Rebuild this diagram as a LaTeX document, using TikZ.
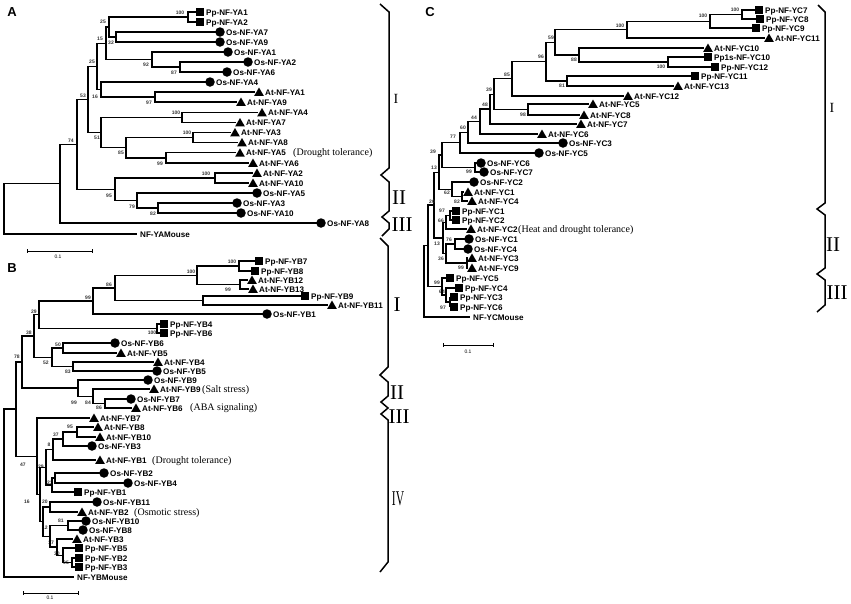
\documentclass[tikz,border=0pt]{standalone}
\usepackage{fontspec}
\setmainfont{Liberation Serif}
\setsansfont{Liberation Sans}
\usetikzlibrary{calc,shapes.geometric}
\newcommand\lblfont{\sffamily\bfseries\fontsize{8.1}{9}\selectfont}
\newcommand\Lf[5]{%
  \coordinate (#1) at ({#3-4},#4);
  \node[#2] (#1s) at (#3,#4) {};
  \node[lbl] (#1t) at ({#3+6},{#4+3}) {#5};}
\newcommand\Tn[4]{%
  \path let \p1=($(#3)!0.5!(#4)$) in coordinate (#1) at (#2pt,\y1);
  \draw[br] (#3) -| (#1) |- (#4);}
\newcommand\Bs[4]{\node[bs] (#1) at (#2,#3) {#4};}
\begin{document}
\begin{tikzpicture}[x=1pt,y=-1pt,
  br/.style={line width=1.3pt,black},
  lbl/.style={anchor=base west,inner sep=0pt,font=\lblfont},
  ann/.style={anchor=base west,inner sep=0pt,font=\rmfamily\fontsize{10}{11}\selectfont},
  bs/.style={inner sep=0pt,font=\sffamily\bfseries\fontsize{5}{5}\selectfont,text=black!80},
  sq/.style={rectangle,fill=black,minimum size=8pt,inner sep=0pt},
  ci/.style={circle,fill=black,minimum size=9.5pt,inner sep=0pt},
  tr/.style={regular polygon,regular polygon sides=3,fill=black,minimum size=11pt,inner sep=0pt,yshift=-1pt},
  brace/.style={line width=1.5pt,black,line join=miter},
  rom/.style={inner sep=0pt,font=\rmfamily\fontsize{21}{21}\selectfont},
  roms/.style={inner sep=0pt,font=\rmfamily\fontsize{14}{14}\selectfont},
  sec/.style={inner sep=0pt,font=\sffamily\bfseries\fontsize{13}{13}\selectfont},
  sbar/.style={line width=0.8pt},
  sbl/.style={inner sep=0pt,font=\sffamily\fontsize{5}{5}\selectfont}]
\useasboundingbox (0,0) rectangle (851,603);
% ================= A =================
\node[sec] (secA) at (12,12) {A};
\Lf{a1}{sq}{200}{12}{Pp-NF-YA1}
\Lf{a2}{sq}{200}{22}{Pp-NF-YA2}
\Lf{a3}{ci}{220}{32}{Os-NF-YA7}
\Lf{a4}{ci}{220}{42}{Os-NF-YA9}
\Lf{a5}{ci}{228}{52}{Os-NF-YA1}
\Lf{a6}{ci}{248}{62}{Os-NF-YA2}
\Lf{a7}{ci}{227}{72}{Os-NF-YA6}
\Lf{a8}{ci}{210}{82}{Os-NF-YA4}
\Lf{a9}{tr}{259}{92}{At-NF-YA1}
\Lf{a10}{tr}{241}{102}{At-NF-YA9}
\Lf{a11}{tr}{262}{112.5}{At-NF-YA4}
\Lf{a12}{tr}{240}{122.5}{At-NF-YA7}
\Lf{a13}{tr}{235}{132.5}{At-NF-YA3}
\Lf{a14}{tr}{242}{142.5}{At-NF-YA8}
\Lf{a15}{tr}{240}{152.8}{At-NF-YA5}
\Lf{a16}{tr}{253}{163}{At-NF-YA6}
\Lf{a17}{tr}{257}{173}{At-NF-YA2}
\Lf{a18}{tr}{253}{183}{At-NF-YA10}
\Lf{a19}{ci}{257}{193}{Os-NF-YA5}
\Lf{a20}{ci}{237}{203}{Os-NF-YA3}
\Lf{a21}{ci}{241}{213}{Os-NF-YA10}
\Lf{a22}{ci}{321}{223}{Os-NF-YA8}
\coordinate (amouse) at (137,234);
\node[lbl] (amouset) at (140,237) {NF-YAMouse};
\node[ann] (annA5) at (293,155.8) {(Drought tolerance)};
\Tn{an1}{188}{a1}{a2}   \Bs{ba1}{180}{13}{100}
\Tn{an2}{116}{a3}{a4}   \Bs{ba2}{111}{43}{32}
\Tn{an3}{109}{an1}{an2} \Bs{ba3}{103}{22}{25}
\Tn{an4}{180}{a6}{a7}   \Bs{ba4}{174}{73}{87}
\Tn{an5}{152}{a5}{an4}  \Bs{ba5}{146}{65}{92}
\Tn{an6}{106}{an3}{an5} \Bs{ba6}{100}{39}{15}
\Tn{an7}{155}{a9}{a10}  \Bs{ba7}{149}{103}{97}
\Tn{an8}{101}{a8}{an7}  \Bs{ba8}{95}{97}{16}
\Tn{an9}{97}{an6}{an8}  \Bs{ba9}{92}{62}{25}
\Tn{ana}{182}{a11}{a12} \Bs{baa}{176}{113}{100}
\Tn{anb}{193}{a13}{a14} \Bs{bab}{187}{133}{100}
\Tn{anc}{166}{a15}{a16} \Bs{bac}{160}{164}{99}
\Tn{and}{126}{anb}{anc} \Bs{bad}{121}{153}{85}
\Tn{ane}{101}{ana}{and} \Bs{bae}{97}{138}{51}
\Tn{an10}{88}{an9}{ane} \Bs{ba10}{83}{96}{53}
\Tn{anf}{215}{a17}{a18} \Bs{baf}{206}{174}{100}
\Tn{ang}{158}{a20}{a21} \Bs{bag}{153}{214}{82}
\Tn{anh}{137}{a19}{ang} \Bs{bah}{132}{207}{79}
\Tn{ani}{115}{anf}{anh} \Bs{bai}{109}{196}{95}
\Tn{an11}{77}{an10}{ani} \Bs{ba11}{71}{141}{74}
\Tn{an12}{60}{an11}{a22}
\Tn{anr}{4}{an12}{amouse}
\draw[sbar] (27,249) -- (27,253) (27,251) -- (92,251) (92,249) -- (92,253);
\node[sbl] (sbA) at (58,257) {0.1};
\draw[brace] (380,4) -- (389,12) -- (389,168) -- (381,175) -- (389,182) -- (389,211) -- (382,217) -- (389,223) -- (389,229) -- (382,236);
\node[roms] (romAI) at (396,99) {I};
\node[rom] (romAII) at (399,198) {II};
\node[rom] (romAIII) at (402,225) {III};
% ================= B =================
\node[sec] (secB) at (12,268) {B};
\Lf{b1}{sq}{259}{261}{Pp-NF-YB7}
\Lf{b2}{sq}{255}{271}{Pp-NF-YB8}
\Lf{b3}{tr}{252}{280}{At-NF-YB12}
\Lf{b4}{tr}{253}{289}{At-NF-YB13}
\Lf{b5}{sq}{305}{296}{Pp-NF-YB9}
\Lf{b6}{tr}{332}{305}{At-NF-YB11}
\Lf{b7}{ci}{267}{314}{Os-NF-YB1}
\Lf{b8}{sq}{164}{324}{Pp-NF-YB4}
\Lf{b9}{sq}{164}{333}{Pp-NF-YB6}
\Lf{b10}{ci}{115}{343}{Os-NF-YB6}
\Lf{b11}{tr}{121}{353}{At-NF-YB5}
\Lf{b12}{tr}{158}{362}{At-NF-YB4}
\Lf{b13}{ci}{157}{371}{Os-NF-YB5}
\Lf{b14}{ci}{148}{380}{Os-NF-YB9}
\Lf{b15}{tr}{154}{389}{At-NF-YB9}
\Lf{b16}{ci}{131}{399}{Os-NF-YB7}
\Lf{b17}{tr}{136}{408}{At-NF-YB6}
\Lf{b18}{tr}{94}{418}{At-NF-YB7}
\Lf{b19}{tr}{98}{427}{At-NF-YB8}
\Lf{b20}{tr}{100}{437}{At-NF-YB10}
\Lf{b21}{ci}{92}{446}{Os-NF-YB3}
\Lf{b22}{tr}{100}{460}{At-NF-YB1}
\Lf{b23}{ci}{104}{473}{Os-NF-YB2}
\Lf{b24}{ci}{128}{483}{Os-NF-YB4}
\Lf{b25}{sq}{78}{492}{Pp-NF-YB1}
\Lf{b26}{ci}{97}{502}{Os-NF-YB11}
\Lf{b27}{tr}{82}{512}{At-NF-YB2}
\Lf{b28}{ci}{86}{521}{Os-NF-YB10}
\Lf{b29}{ci}{83}{530}{Os-NF-YB8}
\Lf{b30}{tr}{77}{539}{At-NF-YB3}
\Lf{b31}{sq}{79}{548}{Pp-NF-YB5}
\Lf{b32}{sq}{79}{558}{Pp-NF-YB2}
\Lf{b33}{sq}{79}{567}{Pp-NF-YB3}
\coordinate (bmouse) at (74,577);
\node[lbl] (bmouset) at (77,580) {NF-YBMouse};
\node[ann] (annB9) at (202,392) {(Salt stress)};
\node[ann] (annB6) at (190,410) {(ABA signaling)};
\node[ann] (annB1) at (152,463) {(Drought tolerance)};
\node[ann] (annB2) at (134,515) {(Osmotic stress)};
\Tn{bn1}{239}{b1}{b2}    \Bs{bb1}{232}{262}{100}
\Tn{bn2}{240}{b3}{b4}    \Bs{bb2}{228}{290}{99}
\Tn{bn3}{197}{bn1}{bn2}  \Bs{bb3}{191}{272}{100}
\Tn{bn5}{203}{b5}{b6}
\Tn{bn4}{115}{bn3}{bn5}  \Bs{bb4}{109}{285}{86}
\Tn{bn6}{93}{bn4}{b7}    \Bs{bb6}{88}{298}{99}
\Tn{bn8}{157}{b8}{b9}    \Bs{bb8}{152}{333}{100}
\Tn{bn7}{39}{bn6}{bn8}   \Bs{bb7}{34}{312}{29}
\Tn{bn10}{63}{b10}{b11}  \Bs{bb10}{58}{345}{50}
\Tn{bn11}{73}{b12}{b13}  \Bs{bb11}{68}{372}{83}
\Tn{bn12}{52}{bn10}{bn11} \Bs{bb12}{46}{363}{52}
\Tn{bn9}{34}{bn7}{bn12}  \Bs{bb9}{29}{333}{38}
\Tn{bn14}{105}{b16}{b17} \Bs{bb14}{99}{408}{86}
\Tn{bn15}{93}{b15}{bn14} \Bs{bb15}{88}{403}{84}
\Tn{bn16}{78}{b14}{bn15} \Bs{bb16}{74}{403}{99}
\Tn{bn13}{22}{bn9}{bn16} \Bs{bb13}{17}{357}{78}
\Tn{bn20}{77}{b19}{b20}  \Bs{bb20}{70}{427}{95}
\Tn{bn21}{63}{bn20}{b21} \Bs{bb21}{56}{435}{37}
\Tn{bn22}{53}{bn21}{b22} \Bs{bb22}{49}{445}{8}
\Tn{bn23}{55}{b23}{b24}  \Bs{bb23}{50}{483}{21}
\Tn{bn24}{52}{bn23}{b25}
\Tn{bn25}{46}{bn22}{bn24} \Bs{bb25}{41}{467}{29}
\Tn{bn27}{50}{b26}{b27}  \Bs{bb27}{45}{502}{20}
\Tn{bn28}{68}{b28}{b29}  \Bs{bb28}{61}{521}{81}
\Tn{bn29}{72}{b32}{b33}  \Bs{bb29}{66}{563}{95}
\Tn{bn30}{63}{b31}{bn29} \Bs{bb30}{57}{554}{30}
\Tn{bn31}{57}{b30}{bn30} \Bs{bb31}{51}{543}{17}
\Tn{bn32}{50}{bn28}{bn31} \Bs{bb32}{45}{528}{12}
\Tn{bn33}{43}{bn27}{bn32}
\Tn{bn34}{40}{bn25}{bn33} \Bs{bb34}{27}{502}{16}
\Tn{bn26}{37}{b18}{bn34} \Bs{bb26}{23}{465}{47}
\Tn{bn35}{16}{bn13}{bn26}
\Tn{bnr}{4}{bn35}{bmouse}
\draw[sbar] (23,591) -- (23,595) (23,593) -- (78,593) (78,591) -- (78,595);
\node[sbl] (sbB) at (50,598) {0.1};
\draw[brace] (380,238) -- (388,246) -- (388,367) -- (380,375) -- (388,382) -- (388,396) -- (381,402) -- (388,408) -- (381,414) -- (388,420) -- (388,562) -- (380,572);
\node[rom] (romBI) at (397,305) {I};
\node[rom] (romBII) at (397,393) {II};
\node[rom] (romBIII) at (399,417) {III};
\node[rom] (romBIV) at (398,499) {\scalebox{0.55}[1]{IV}};
% ================= C =================
\node[sec] (secC) at (430,12) {C};
\Lf{c01}{sq}{759}{10}{Pp-NF-YC7}
\Lf{c02}{sq}{760}{19}{Pp-NF-YC8}
\Lf{c03}{sq}{756}{28}{Pp-NF-YC9}
\Lf{c04}{tr}{769}{38}{At-NF-YC11}
\Lf{c05}{tr}{708}{48}{At-NF-YC10}
\Lf{c06}{sq}{708}{57}{Pp1s-NF-YC10}
\Lf{c07}{sq}{715}{67}{Pp-NF-YC12}
\Lf{c08}{sq}{695}{76}{Pp-NF-YC11}
\Lf{c09}{tr}{678}{86}{At-NF-YC13}
\Lf{c10}{tr}{628}{96}{At-NF-YC12}
\Lf{c11}{tr}{593}{104}{At-NF-YC5}
\Lf{c12}{tr}{584}{115}{At-NF-YC8}
\Lf{c13}{tr}{581}{124}{At-NF-YC7}
\Lf{c14}{tr}{542}{134}{At-NF-YC6}
\Lf{c15}{ci}{563}{143}{Os-NF-YC3}
\Lf{c16}{ci}{539}{153}{Os-NF-YC5}
\Lf{c17}{ci}{481}{163}{Os-NF-YC6}
\Lf{c18}{ci}{484}{172}{Os-NF-YC7}
\Lf{c19}{ci}{474}{182}{Os-NF-YC2}
\Lf{c20}{tr}{468}{192}{At-NF-YC1}
\Lf{c21}{tr}{472}{201}{At-NF-YC4}
\Lf{c22}{sq}{456}{211}{Pp-NF-YC1}
\Lf{c23}{sq}{456}{220}{Pp-NF-YC2}
\Lf{c24}{tr}{471}{229}{At-NF-YC2}
\Lf{c25}{ci}{469}{239}{Os-NF-YC1}
\Lf{c26}{ci}{468}{249}{Os-NF-YC4}
\Lf{c27}{tr}{472}{258}{At-NF-YC3}
\Lf{c28}{tr}{472}{268}{At-NF-YC9}
\Lf{c29}{sq}{450}{278}{Pp-NF-YC5}
\Lf{c30}{sq}{459}{288}{Pp-NF-YC4}
\Lf{c31}{sq}{454}{297}{Pp-NF-YC3}
\Lf{c32}{sq}{454}{307}{Pp-NF-YC6}
\coordinate (cmouse) at (470,317);
\node[lbl] (cmouset) at (473,320) {NF-YCMouse};
\node[ann] (annC2) at (518,232) {(Heat and drought tolerance)};
\Tn{cn1}{742}{c01}{c02}   \Bs{bc1}{735}{10}{100}
\Tn{cn2}{710}{cn1}{c03}   \Bs{bc2}{703}{16}{100}
\Tn{cn3}{627}{cn2}{c04}   \Bs{bc3}{620}{26}{100}
\Tn{cn4}{668}{c06}{c07}   \Bs{bc4}{661}{67}{100}
\Tn{cn5}{579}{c05}{cn4}   \Bs{bc5}{574}{60}{88}
\Tn{cn6}{555}{cn3}{cn5}   \Bs{bc6}{551}{38}{59}
\Tn{cn7}{567}{c08}{c09}   \Bs{bc7}{562}{86}{81}
\Tn{cn8}{546}{cn6}{cn7}   \Bs{bc8}{541}{57}{96}
\Tn{cn9}{512}{cn8}{c10}   \Bs{bc9}{507}{75}{85}
\Tn{cn10}{528}{c11}{c12}  \Bs{bc10}{523}{115}{98}
\Tn{cn11}{494}{cn9}{cn10} \Bs{bc11}{489}{90}{39}
\Tn{cn12}{490}{cn11}{c13} \Bs{bc12}{485}{105}{48}
\Tn{cn13}{480}{cn12}{c14} \Bs{bc13}{474}{118}{44}
\Tn{cn14}{468}{cn13}{c15} \Bs{bc14}{463}{128}{60}
\Tn{cn15}{460}{cn14}{c16} \Bs{bc15}{453}{137}{77}
\Tn{cn17}{475}{c17}{c18}  \Bs{bc17}{469}{172}{99}
\Tn{cn16}{442}{cn15}{cn17} \Bs{bc16}{433}{152}{39}
\Tn{cn18}{462}{c20}{c21}  \Bs{bc18}{457}{202}{82}
\Tn{cn19}{452}{c19}{cn18} \Bs{bc19}{447}{193}{62}
\Tn{cn20}{439}{cn16}{cn19} \Bs{bc20}{434}{168}{13}
\Tn{cn21}{450}{c22}{c23}  \Bs{bc21}{442}{211}{97}
\Tn{cn22}{446}{cn21}{c24} \Bs{bc22}{441}{221}{66}
\Tn{cn23}{455}{c25}{c26}  \Bs{bc23}{449}{240}{76}
\Tn{cn24}{467}{c27}{c28}  \Bs{bc24}{461}{268}{99}
\Tn{cn25}{446}{cn23}{cn24} \Bs{bc25}{441}{259}{36}
\Tn{cn26}{443}{cn22}{cn25} \Bs{bc26}{437}{244}{13}
\Tn{cn27}{434}{cn20}{cn26}
\Tn{cn28}{450}{c31}{c32}  \Bs{bc28}{443}{308}{97}
\Tn{cn29}{446}{c30}{cn28} \Bs{bc29}{442}{292}{64}
\Tn{cn30}{442}{c29}{cn29} \Bs{bc30}{437}{283}{99}
\Tn{cn31}{428}{cn27}{cn30} \Bs{bc31}{432}{202}{20}
\Tn{cnr}{424}{cn31}{cmouse}
\draw[sbar] (443,343) -- (443,347) (443,345) -- (493,345) (493,343) -- (493,347);
\node[sbl] (sbC) at (468,352) {0.1};
\draw[brace] (818,5) -- (825,12) -- (825,203) -- (817,209) -- (825,215) -- (825,268) -- (817,274) -- (825,280) -- (825,305) -- (817,312);
\node[roms] (romCI) at (832,108) {I};
\node[rom] (romCII) at (833,245) {II};
\node[rom] (romCIII) at (837,293) {III};
\end{tikzpicture}
\end{document}
